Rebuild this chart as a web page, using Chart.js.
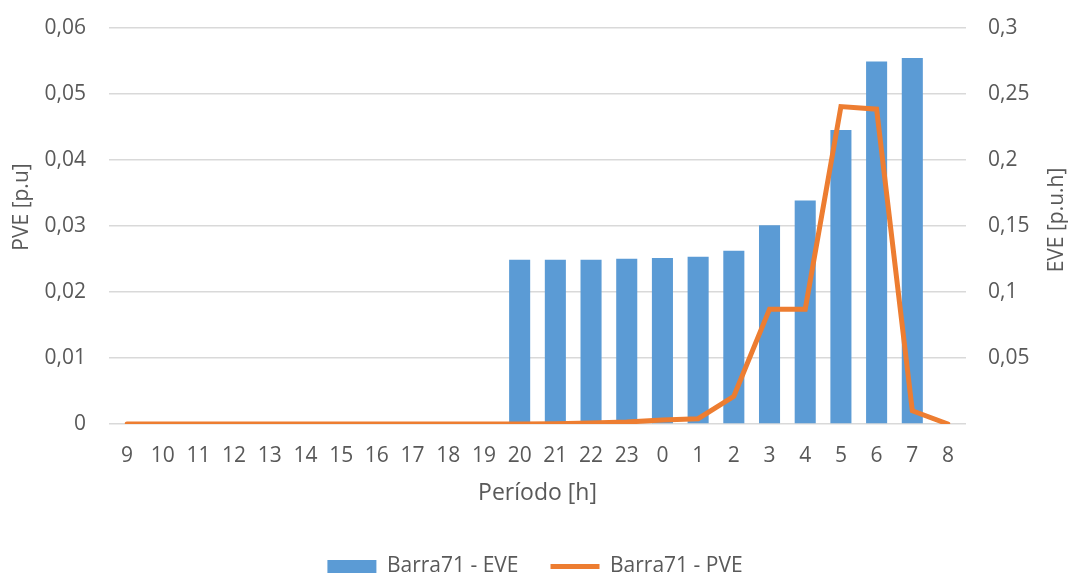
<!DOCTYPE html>
<html>
<head>
<meta charset="utf-8">
<script src="https://cdn.jsdelivr.net/npm/chart.js@4"></script>
<style>
  html, body { margin: 0; padding: 0; background: #fff; }
  #wrap { width: 1070px; height: 574px; }
</style>
</head>
<body>
<div id="wrap"><canvas id="eve-chart"></canvas></div>
<script>
// hours of the day, starting at 9h
const hours = ['9', '10', '11', '12', '13', '14', '15', '16', '17', '18', '19', '20',
  '21', '22', '23', '0', '1', '2', '3', '4', '5', '6', '7', '8'];

// EVE [p.u.h] - bars, right axis
const eveValues = [0, 0, 0, 0, 0, 0, 0, 0, 0, 0, 0, 0.1245,
  0.1245, 0.1245, 0.1252, 0.1258, 0.1267, 0.1313, 0.1505, 0.1694, 0.2227, 0.2747, 0.2773, 0];

// PVE [p.u] - line, left axis
const pveValues = [0, 0, 0, 0, 0, 0, 0, 0, 0, 0, 0, 0,
  0.00005, 0.00015, 0.0003, 0.0006, 0.0008, 0.0042, 0.0174, 0.0174, 0.0481, 0.0477, 0.002, 0];

const seriesNames = ['Barra71 - EVE', 'Barra71 - PVE'];
const axisTitles = { x: 'Período [h]', left: 'PVE [p.u]', right: 'EVE [p.u.h]' };

const textColor = '#595959';
const gridColor = '#d9d9d9';
const fontFamily = "'Open Sans', sans-serif";

Chart.defaults.font.family = fontFamily;
Chart.defaults.font.size = 21;
Chart.defaults.color = textColor;

function commaFmt(v) {
  return String(+v.toFixed(3)).replace('.', ',');
}

// y axis titles, both read bottom-to-top like the original
const yTitles = {
  id: 'yTitles',
  afterDraw(chart) {
    const ctx = chart.ctx;
    ctx.save();
    ctx.font = '21px ' + fontFamily;
    ctx.fillStyle = textColor;
    ctx.textAlign = 'center';
    ctx.textBaseline = 'middle';
    [[axisTitles.left, 22, 207], [axisTitles.right, 1057, 220]].forEach(([t, x, y]) => {
      ctx.save();
      ctx.translate(x, y);
      ctx.rotate(-Math.PI / 2);
      ctx.fillText(t, 0, 0);
      ctx.restore();
    });
    ctx.restore();
  }
};

const ctx = document.getElementById('eve-chart');

const eveChart = new Chart(ctx, {
  type: 'bar',
  data: {
    labels: hours,
    datasets: [{
      label: seriesNames[0],
      data: eveValues,
      yAxisID: 'y1',
      backgroundColor: '#5b9bd5',
      borderColor: '#5b9bd5',
      borderWidth: 0,
      barPercentage: 0.59,
      categoryPercentage: 1,
      order: 2
    }, {
      type: 'line',
      label: seriesNames[1],
      data: pveValues,
      yAxisID: 'y',
      borderColor: '#ed7d31',
      backgroundColor: '#ed7d31',
      borderWidth: 5,
      borderCapStyle: 'round',
      pointRadius: 0,
      tension: 0,
      order: 1
    }]
  },
  options: {
    responsive: true,
    maintainAspectRatio: false,
    animation: false,
    devicePixelRatio: 1,
    layout: { padding: { top: 28, left: 0, right: 0, bottom: 0 } },
    plugins: {
      tooltip: { enabled: false },
      legend: {
        position: 'bottom',
        maxHeight: 50,
        labels: {
          usePointStyle: true,
          pointStyleWidth: 49,
          boxHeight: 13,
          padding: 32,
          color: textColor,
          generateLabels(chart) {
            const items = Chart.defaults.plugins.legend.labels.generateLabels(chart);
            items.forEach(it => { it.pointStyle = it.datasetIndex === 0 ? 'rect' : 'line'; });
            return items.sort((a, b) => a.datasetIndex - b.datasetIndex);
          }
        }
      }
    },
    scales: {
      x: {
        offset: false,
        grid: { display: false },
        border: { display: false },
        ticks: { autoSkip: false, maxRotation: 0, padding: 11 },
        title: { display: true, text: axisTitles.x, font: { size: 23 }, padding: { top: 0, bottom: 17 } },
        afterFit(s) { s.height = 100; }
      },
      y: {
        position: 'left',
        min: 0,
        max: 0.06,
        grid: { color: gridColor, lineWidth: 1.5, tickLength: 18 },
        border: { display: false },
        ticks: { stepSize: 0.01, padding: 23, callback: v => commaFmt(v) },
        afterFit(s) { s.width = 127; s.paddingTop = 0; }
      },
      y1: {
        position: 'right',
        min: 0,
        max: 0.3,
        grid: { color: gridColor, lineWidth: 1.5, tickLength: 18, drawOnChartArea: false },
        border: { display: false },
        ticks: { stepSize: 0.05, padding: 22, callback: v => (v === 0 ? '' : commaFmt(v)) },
        afterFit(s) { s.width = 122; s.paddingTop = 0; }
      }
    }
  },
  plugins: [yTitles]
});
</script>
</body>
</html>
